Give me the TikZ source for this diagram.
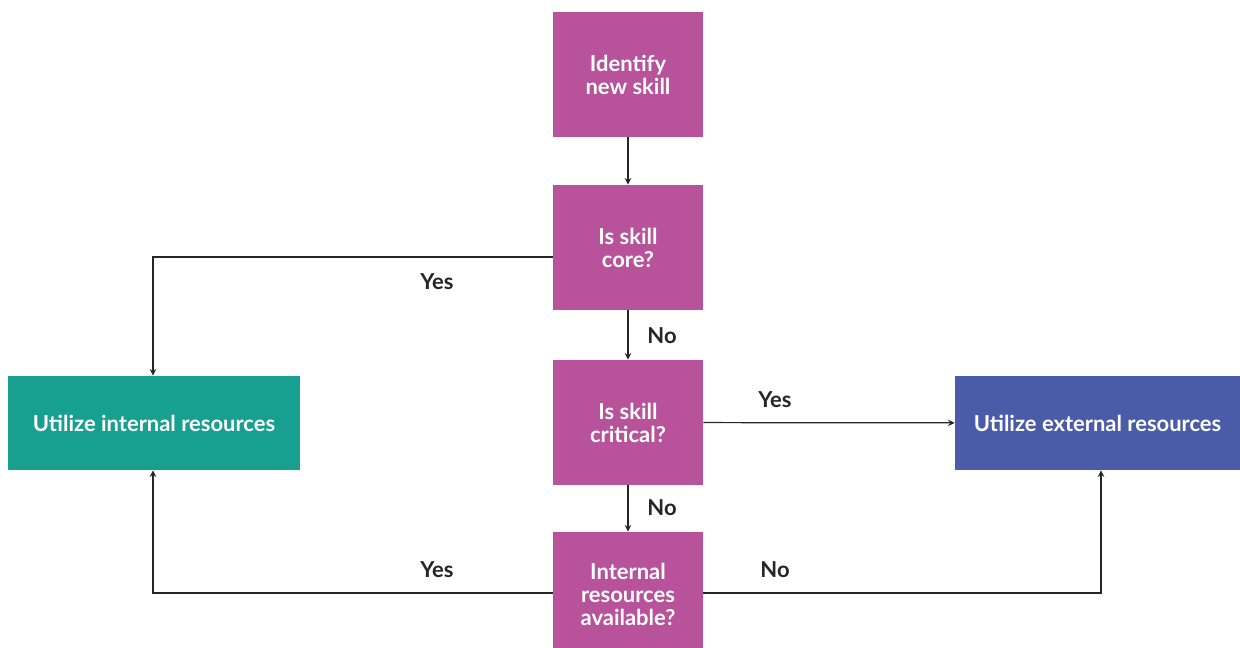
\documentclass[tikz,border=0pt]{standalone}
\usepackage{fontspec}
\setmainfont{Lato}
\usepackage{tikz}
\usetikzlibrary{arrows}
\definecolor{skillpurple}{HTML}{B7529B}
\definecolor{skillteal}{HTML}{17A08F}
\definecolor{skillblue}{HTML}{4A5CA8}
\tikzstyle{step box}=[fill=skillpurple, text=white, font=\bfseries\fontsize{12.5}{13}\selectfont, align=center, minimum width=3cm, minimum height=2.5cm, inner sep=0pt]
\tikzstyle{res box}=[text=white, font=\bfseries\fontsize{12.5}{13}\selectfont, align=center, minimum height=1.88cm, inner sep=0pt]
\tikzstyle{flow}=[-stealth, line width=0.7pt, draw=black!85]
\tikzstyle{answer}=[font=\bfseries\fontsize{12.5}{13}\selectfont, text=black!85]

\begin{document}
\begin{tikzpicture}[x=0.02cm, y=-0.02cm]
	\useasboundingbox (0,0) rectangle (1240,647);
	\node[step box] (identify) at (628,74.5) {Identify\\new skill};
	\node[step box] (core) at (628,247.5) {Is skill\\core?};
	\node[step box] (critical) at (628,422.5) {Is skill\\critical?};
	\node[step box] (avail) at (628,594.5) {Internal\\resources\\available?};
	\node[res box, fill=skillteal, minimum width=5.84cm] (internal) at (154,423) {Utilize internal resources};
	\node[res box, fill=skillblue, minimum width=5.7cm] (external) at (1097.5,423) {Utilize external resources};
	\coordinate (coreturn) at (153,257);
	\coordinate (availleft) at (153,593);
	\coordinate (availright) at (1101,593);
	% connectors
	\draw[flow] (identify) -- (core);
	\draw[flow] (core.west |- coreturn) -- (coreturn) -- (internal.north -| coreturn);
	\draw[flow] (core) -- (critical);
	\draw[flow] (critical) -- (external);
	\draw[flow] (critical) -- (avail);
	\draw[flow] (avail.west |- availleft) -- (availleft) -- (internal.south -| availleft);
	\draw[flow] (avail.east |- availright) -- (availright) -- (external.south -| availright);
	% labels
	\node[answer] (yes1) at (437,282) {Yes};
	\node[answer] (no1) at (662,336) {No};
	\node[answer] (yes2) at (775,400) {Yes};
	\node[answer] (no2) at (662,508) {No};
	\node[answer] (yes3) at (437,570) {Yes};
	\node[answer] (no3) at (775,570) {No};
\end{tikzpicture}
\end{document}
